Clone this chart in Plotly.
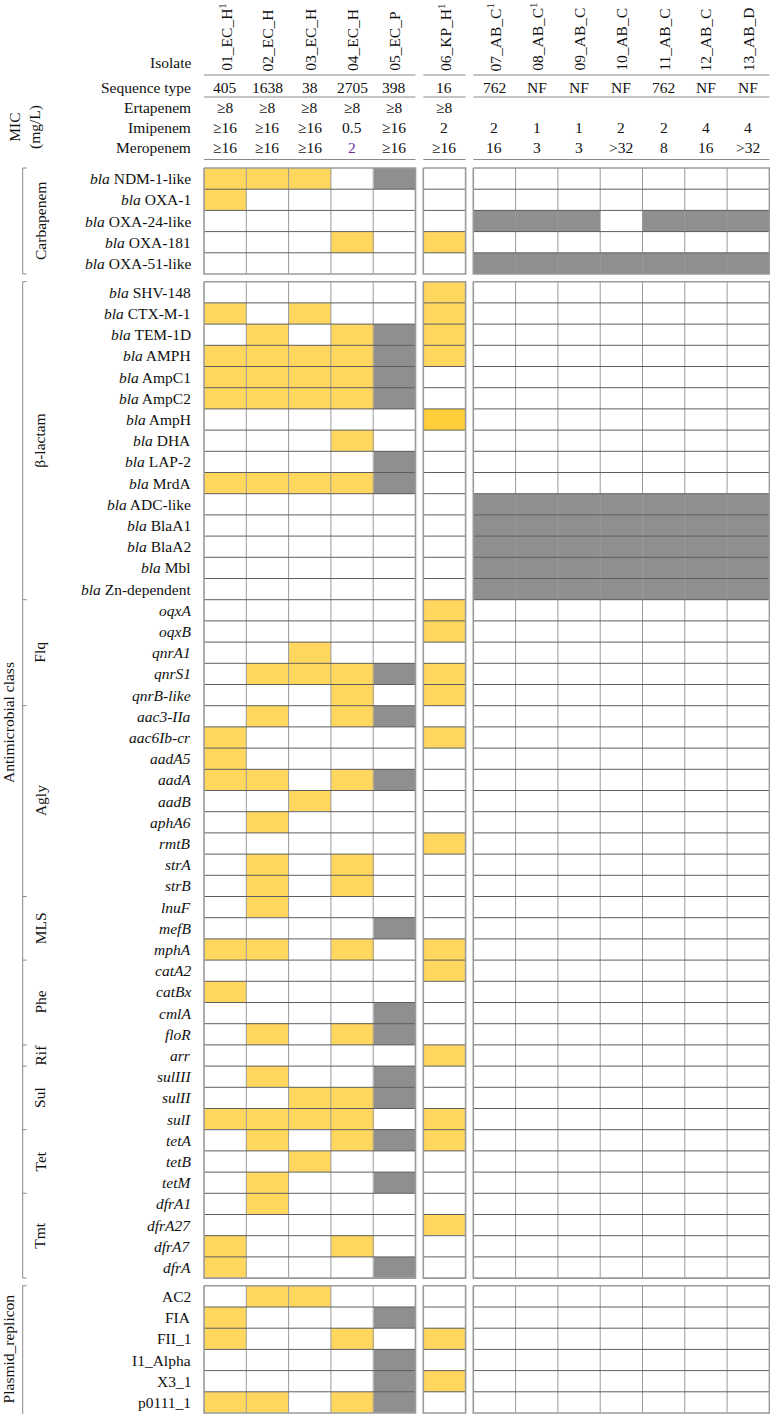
import plotly.graph_objects as go

# ---------------- data ----------------
isolates = ["01_EC_H", "02_EC_H", "03_EC_H", "04_EC_H", "05_EC_P", "06_KP_H",
            "07_AB_C", "08_AB_C", "09_AB_C", "10_AB_C", "11_AB_C", "12_AB_C", "13_AB_D"]
isolate_note = [1, 0, 0, 0, 0, 1, 1, 1, 0, 0, 0, 0, 0]
sequence_types = ["405", "1638", "38", "2705", "398", "16", "762", "NF", "NF", "NF", "762", "NF", "NF"]
ertapenem = ["≥8", "≥8", "≥8", "≥8", "≥8", "≥8", "", "", "", "", "", "", ""]
imipenem = ["≥16", "≥16", "≥16", "0.5", "≥16", "2", "2", "1", "1", "2", "2", "4", "4"]
meropenem = ["≥16", "≥16", "≥16", "2", "≥16", "≥16", "16", "3", "3", ">32", "8", "16", ">32"]
highlight_mero = [0, 0, 0, 1, 0, 0, 0, 0, 0, 0, 0, 0, 0]

# groups of genes (antimicrobial class)
carb_genes = ["NDM-1-like", "OXA-1", "OXA-24-like", "OXA-181", "OXA-51-like"]
# 0 absent, 1 present (yellow), 2 present (gray), 3 present (dark yellow)
carb_values = ["11102 0 0000000",
               "10000 0 0000000",
               "00000 0 2220222",
               "00010 1 0000000",
               "00000 0 2222222"]

main_groups = ["β-lactam", "Flq", "Agly", "MLS", "Phe", "Rif", "Sul", "Tet", "Tmt"]
main_genes = [
    ["SHV-148", "CTX-M-1", "TEM-1D", "AMPH", "AmpC1", "AmpC2", "AmpH", "DHA", "LAP-2",
     "MrdA", "ADC-like", "BlaA1", "BlaA2", "Mbl", "Zn-dependent"],
    ["oqxA", "oqxB", "qnrA1", "qnrS1", "qnrB-like"],
    ["aac3-IIa", "aac6Ib-cr", "aadA5", "aadA", "aadB", "aphA6", "rmtB", "strA", "strB"],
    ["lnuF", "mefB", "mphA"],
    ["catA2", "catBx", "cmlA", "floR"],
    ["arr"],
    ["sulIII", "sulII", "sulI"],
    ["tetA", "tetB", "tetM"],
    ["dfrA1", "dfrA27", "dfrA7", "dfrA"],
]
main_values = [
    ["00000 1 0000000", "10100 1 0000000", "01012 1 0000000", "11112 1 0000000",
     "11112 0 0000000", "11112 0 0000000", "00000 3 0000000", "00010 0 0000000",
     "00002 0 0000000", "11112 0 0000000", "00000 0 2222222", "00000 0 2222222",
     "00000 0 2222222", "00000 0 2222222", "00000 0 2222222"],
    ["00000 1 0000000", "00000 1 0000000", "00100 0 0000000", "01112 1 0000000",
     "00010 1 0000000"],
    ["01012 0 0000000", "10000 1 0000000", "10000 0 0000000", "11012 0 0000000",
     "00100 0 0000000", "01000 0 0000000", "00000 1 0000000", "01010 0 0000000",
     "01010 0 0000000"],
    ["01000 0 0000000", "00002 0 0000000", "11010 1 0000000"],
    ["00000 1 0000000", "10000 0 0000000", "00002 0 0000000", "01012 0 0000000"],
    ["00000 1 0000000"],
    ["01002 0 0000000", "00112 0 0000000", "11110 1 0000000"],
    ["01012 1 0000000", "00100 0 0000000", "01002 0 0000000"],
    ["01000 0 0000000", "00000 1 0000000", "10010 0 0000000", "10002 0 0000000"],
]

plasmid_genes = ["AC2", "FIA", "FII_1", "I1_Alpha", "X3_1", "p0111_1"]
plasmid_values = ["01100 0 0000000",
                  "10002 0 0000000",
                  "10010 1 0000000",
                  "00002 0 0000000",
                  "00002 1 0000000",
                  "11012 0 0000000"]

# ---------------- styling / geometry ----------------
W, H = 770, 1414
FONT = "Liberation Serif"
FS = 15.5
TXT = "#111111"
YELLOW = "#FFD75F"
GRAY = "#8F8F8F"
DYELLOW = "#FFCE3A"
COL_W = 42.3
ROW_H = 21.2
col_blocks = [(204.0, 0, 5), (423.3, 5, 6), (473.3, 6, 13)]  # x0, first col, end col
BLOCK_GAP = 7.7
carb_y0 = 168.0
LABEL_X = 193.0
BRACKET_X = 22.7

def parse(rows):
    return [[int(c) for c in r.replace(" ", "")] for r in rows]

carb_z = parse(carb_values)
main_z = []
group_bounds = []
for g, genes, vals in zip(main_groups, main_genes, main_values):
    group_bounds.append((g, len(main_z), len(main_z) + len(genes)))
    main_z += parse(vals)
plas_z = parse(plasmid_values)

main_y0 = carb_y0 + len(carb_z) * ROW_H + BLOCK_GAP
plas_y0 = main_y0 + len(main_z) * ROW_H + BLOCK_GAP
row_blocks = [(carb_y0, carb_z), (main_y0, main_z), (plas_y0, plas_z)]

def col_center(j):
    for x0, a, b in col_blocks:
        if a <= j < b:
            return x0 + (j - a + 0.5) * COL_W

colorscale = [[0, "white"], [0.25, "white"], [0.25, YELLOW], [0.5, YELLOW],
              [0.5, GRAY], [0.75, GRAY], [0.75, DYELLOW], [1, DYELLOW]]

fig = go.Figure()

# cells
for y0, z in row_blocks:
    for x0, a, b in col_blocks:
        sub = [row[a:b] for row in z]
        fig.add_trace(go.Heatmap(
            z=sub, x0=x0 + COL_W / 2, dx=COL_W, y0=y0 + ROW_H / 2, dy=ROW_H,
            colorscale=colorscale, zmin=-0.5, zmax=3.5, showscale=False,
            hoverinfo="skip"))

# grid lines
hx, hy, vx, vy, ox, oy = [], [], [], [], [], []
for y0, z in row_blocks:
    n = len(z)
    y1 = y0 + n * ROW_H
    for x0, a, b in col_blocks:
        x1 = x0 + (b - a) * COL_W
        for i in range(1, n):
            yy = y0 + i * ROW_H
            hx += [x0, x1, None]
            hy += [yy, yy, None]
        for j in range(1, b - a):
            xx = x0 + j * COL_W
            vx += [xx, xx, None]
            vy += [y0, y1, None]
        ox += [x0, x1, x1, x0, x0, None]
        oy += [y0, y0, y1, y1, y0, None]
fig.add_trace(go.Scatter(x=vx, y=vy, mode="lines", line=dict(color="#9a9a9a", width=1),
                         hoverinfo="skip", showlegend=False))
fig.add_trace(go.Scatter(x=hx, y=hy, mode="lines", line=dict(color="#5e5e5e", width=1),
                         hoverinfo="skip", showlegend=False))
fig.add_trace(go.Scatter(x=ox, y=oy, mode="lines", line=dict(color="#9a9a9a", width=1.6),
                         hoverinfo="skip", showlegend=False))

# header rules
lx, ly = [], []
for yy in (75.0, 97.0, 159.5):
    for x0, a, b in col_blocks:
        lx += [x0, x0 + (b - a) * COL_W, None]
        ly += [yy, yy, None]
fig.add_trace(go.Scatter(x=lx, y=ly, mode="lines", line=dict(color="#8a8a8a", width=1),
                         hoverinfo="skip", showlegend=False))

# brackets
bx, by = [], []
tick = 4.0
def bracket(ya, yb, inner):
    bx.extend([BRACKET_X + tick, BRACKET_X, BRACKET_X, BRACKET_X + tick, None])
    by.extend([ya, ya, yb, yb, None])
    for yy in inner:
        bx.extend([BRACKET_X, BRACKET_X + tick, None])
        by.extend([yy, yy, None])
bracket(carb_y0, carb_y0 + len(carb_z) * ROW_H, [])
bracket(main_y0, main_y0 + len(main_z) * ROW_H,
        [main_y0 + s * ROW_H for _, s, e in group_bounds[1:]])
bx.extend([BRACKET_X + tick, BRACKET_X, BRACKET_X, None])
by.extend([plas_y0, plas_y0, H + 5, None])
fig.add_trace(go.Scatter(x=bx, y=by, mode="lines", line=dict(color="#8a8a8a", width=1),
                         hoverinfo="skip", showlegend=False))

ann = []
def text(x, y, s, xanchor="center", yanchor="middle", angle=0, size=FS, color=TXT):
    ann.append(dict(x=x, y=y, xref="x", yref="y", text=s, showarrow=False,
                    xanchor=xanchor, yanchor=yanchor, textangle=angle,
                    font=dict(family=FONT, size=size, color=color)))

# header
text(LABEL_X, 62, "Isolate", xanchor="right")
text(LABEL_X, 87, "Sequence type", xanchor="right")
text(LABEL_X, 107, "Ertapenem", xanchor="right")
text(LABEL_X, 127, "Imipenem", xanchor="right")
text(LABEL_X, 147, "Meropenem", xanchor="right")
text(25, 127, "MIC<br>(mg/L)", angle=-90)
for j, name in enumerate(isolates):
    cx = col_center(j)
    label = name + ("<sup>1</sup>" if isolate_note[j] else "")
    text(cx, 73, label, yanchor="bottom", angle=-90)
    text(cx, 87, sequence_types[j])
    if ertapenem[j]:
        text(cx, 107, ertapenem[j])
    text(cx, 127, imipenem[j])
    text(cx, 147, meropenem[j], color="#7030A0" if highlight_mero[j] else TXT)

# row labels
def row_labels(y0, labels, kind):
    for i, g in enumerate(labels):
        if kind == "bla":
            s = "<i>bla</i> " + g
        elif kind == "it":
            s = "<i>" + g + "</i>"
        else:
            s = g
        text(LABEL_X, y0 + (i + 0.5) * ROW_H, s, xanchor="right")

row_labels(carb_y0, carb_genes, "bla")
row_labels(main_y0, main_genes[0], "bla")
row_labels(main_y0 + len(main_genes[0]) * ROW_H, sum(main_genes[1:], []), "it")
row_labels(plas_y0, plasmid_genes, "plain")

# group labels
text(40, carb_y0 + len(carb_z) * ROW_H / 2, "Carbapenem", angle=-90)
for g, s, e in group_bounds:
    text(40, main_y0 + (s + e) / 2 * ROW_H, g, angle=-90)
text(8, (carb_y0 + main_y0 + len(main_z) * ROW_H) / 2, "Antimicrobial class", angle=-90)
text(8, plas_y0 + len(plas_z) * ROW_H / 2, "Plasmid_replicon", angle=-90)

fig.update_layout(
    width=W, height=H, margin=dict(l=0, r=0, t=0, b=0),
    paper_bgcolor="white", plot_bgcolor="white", showlegend=False,
    xaxis=dict(range=[0, W], visible=False, fixedrange=True),
    yaxis=dict(range=[H, 0], visible=False, fixedrange=True),
    annotations=ann,
)
fig.write_html("out.html", config={"displayModeBar": False},
               post_script="document.body.style.margin='0';document.body.style.overflow='hidden';")
